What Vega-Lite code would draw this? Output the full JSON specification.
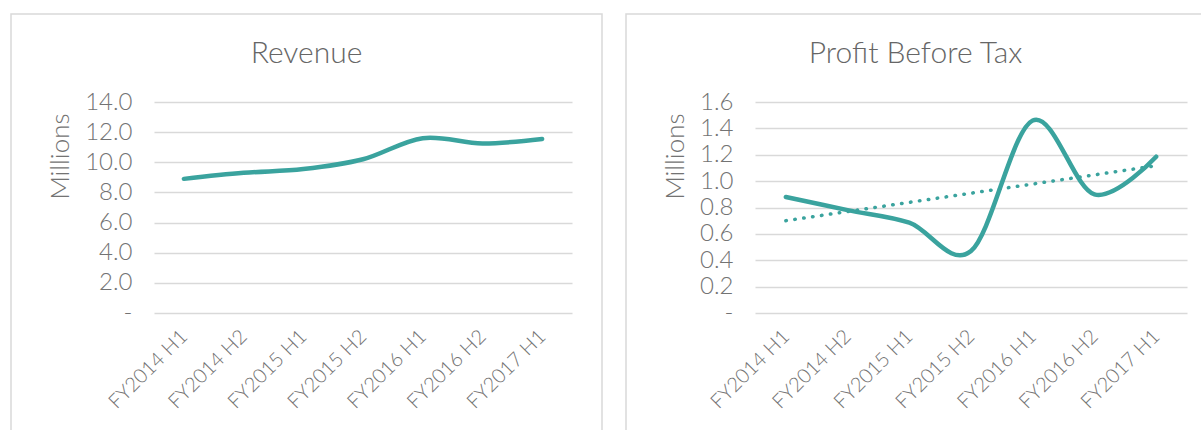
{
  "$schema": "https://vega.github.io/schema/vega-lite/v6.json",
  "padding": {"left": 10, "top": 13, "right": 0, "bottom": 0},
  "autosize": {"type": "pad"},
  "background": "white",
  "spacing": 22,
  "config": {
    "view": {"stroke": "#d9d9d9", "strokeWidth": 1.5},
    "font": "Lato",
    "title": {"font": "Lato", "fontWeight": 300, "fontSize": 30, "color": "#666666", "anchor": "middle", "baseline": "alphabetic", "offset": -55},
    "axis": {
      "labelFont": "Lato", "labelFontWeight": 300, "labelColor": "#737373",
      "titleFont": "Lato", "titleFontWeight": 300, "titleColor": "#737373",
      "domain": false, "ticks": false, "gridColor": "#d9d9d9", "gridWidth": 1.5
    }
  },
  "datasets": {
    "main": [
      {"period": "FY2014 H1", "revenue": 8.9, "profit": 0.88},
      {"period": "FY2014 H2", "revenue": 9.3, "profit": 0.78},
      {"period": "FY2015 H1", "revenue": 9.55, "profit": 0.685},
      {"period": "FY2015 H2", "revenue": 10.2, "profit": 0.47},
      {"period": "FY2016 H1", "revenue": 11.6, "profit": 1.46},
      {"period": "FY2016 H2", "revenue": 11.25, "profit": 0.9},
      {"period": "FY2017 H1", "revenue": 11.55, "profit": 1.185}
    ],
    "trend": [
      {"period": "FY2014 H1", "trend": 0.70},
      {"period": "FY2017 H1", "trend": 1.117}
    ]
  },
  "hconcat": [
    {
      "width": 591,
      "height": 420,
      "title": {"text": "Revenue"},
      "data": {"name": "main"},
      "mark": {"type": "line", "interpolate": "cardinal", "color": "#3aa39e", "strokeWidth": 4.5, "strokeCap": "round"},
      "encoding": {
        "x": {
          "field": "period", "type": "ordinal",
          "scale": {"type": "point", "domain": ["FY2014 H1", "FY2014 H2", "FY2015 H1", "FY2015 H2", "FY2016 H1", "FY2016 H2", "FY2017 H1"], "range": [143, 561], "padding": 0.5},
          "axis": {"title": null, "orient": "bottom", "offset": -121, "labelAngle": -45, "labelAlign": "right", "labelBaseline": "middle", "labelPadding": 20, "labelFontSize": 20, "grid": false}
        },
        "y": {
          "field": "revenue", "type": "quantitative",
          "scale": {"domain": [0, 14], "range": [299, 88], "nice": false},
          "axis": {"title": "Millions", "offset": -143, "values": [0, 2, 4, 6, 8, 10, 12, 14], "labelExpr": "datum.value == 0 ? '-' : format(datum.value, '.1f')", "labelFontSize": 24, "labelPadding": 22, "titleFontSize": 26, "titleAnchor": "end", "titleAlign": "right", "titleY": 99, "titlePadding": 11}
        }
      }
    },
    {
      "width": 579,
      "height": 420,
      "title": {"text": "Profit Before Tax"},
      "layer": [
        {
          "data": {"name": "main"},
          "mark": {"type": "line", "interpolate": "cardinal", "color": "#3aa39e", "strokeWidth": 4.5, "strokeCap": "round"},
          "encoding": {
            "x": {
              "field": "period", "type": "ordinal",
              "scale": {"type": "point", "domain": ["FY2014 H1", "FY2014 H2", "FY2015 H1", "FY2015 H2", "FY2016 H1", "FY2016 H2", "FY2017 H1"], "range": [129, 561], "padding": 0.5},
              "axis": {"title": null, "orient": "bottom", "offset": -121, "labelAngle": -45, "labelAlign": "right", "labelBaseline": "middle", "labelPadding": 20, "labelFontSize": 20, "grid": false}
            },
            "y": {
              "field": "profit", "type": "quantitative",
              "scale": {"domain": [0, 1.6], "range": [299, 88], "nice": false},
              "axis": {"title": "Millions", "offset": -129, "values": [0, 0.2, 0.4, 0.6, 0.8, 1.0, 1.2, 1.4, 1.6], "labelExpr": "datum.value == 0 ? '-' : format(datum.value, '.1f')", "labelFontSize": 24, "labelPadding": 22, "titleFontSize": 26, "titleAnchor": "end", "titleAlign": "right", "titleY": 99, "titlePadding": 11}
            }
          }
        },
        {
          "data": {"name": "trend"},
          "mark": {"type": "line", "color": "#3aa39e", "strokeWidth": 3.5, "strokeCap": "round", "strokeDash": [0.5, 8.5]},
          "encoding": {
            "x": {"field": "period", "type": "ordinal"},
            "y": {"field": "trend", "type": "quantitative"}
          }
        }
      ]
    }
  ]
}
